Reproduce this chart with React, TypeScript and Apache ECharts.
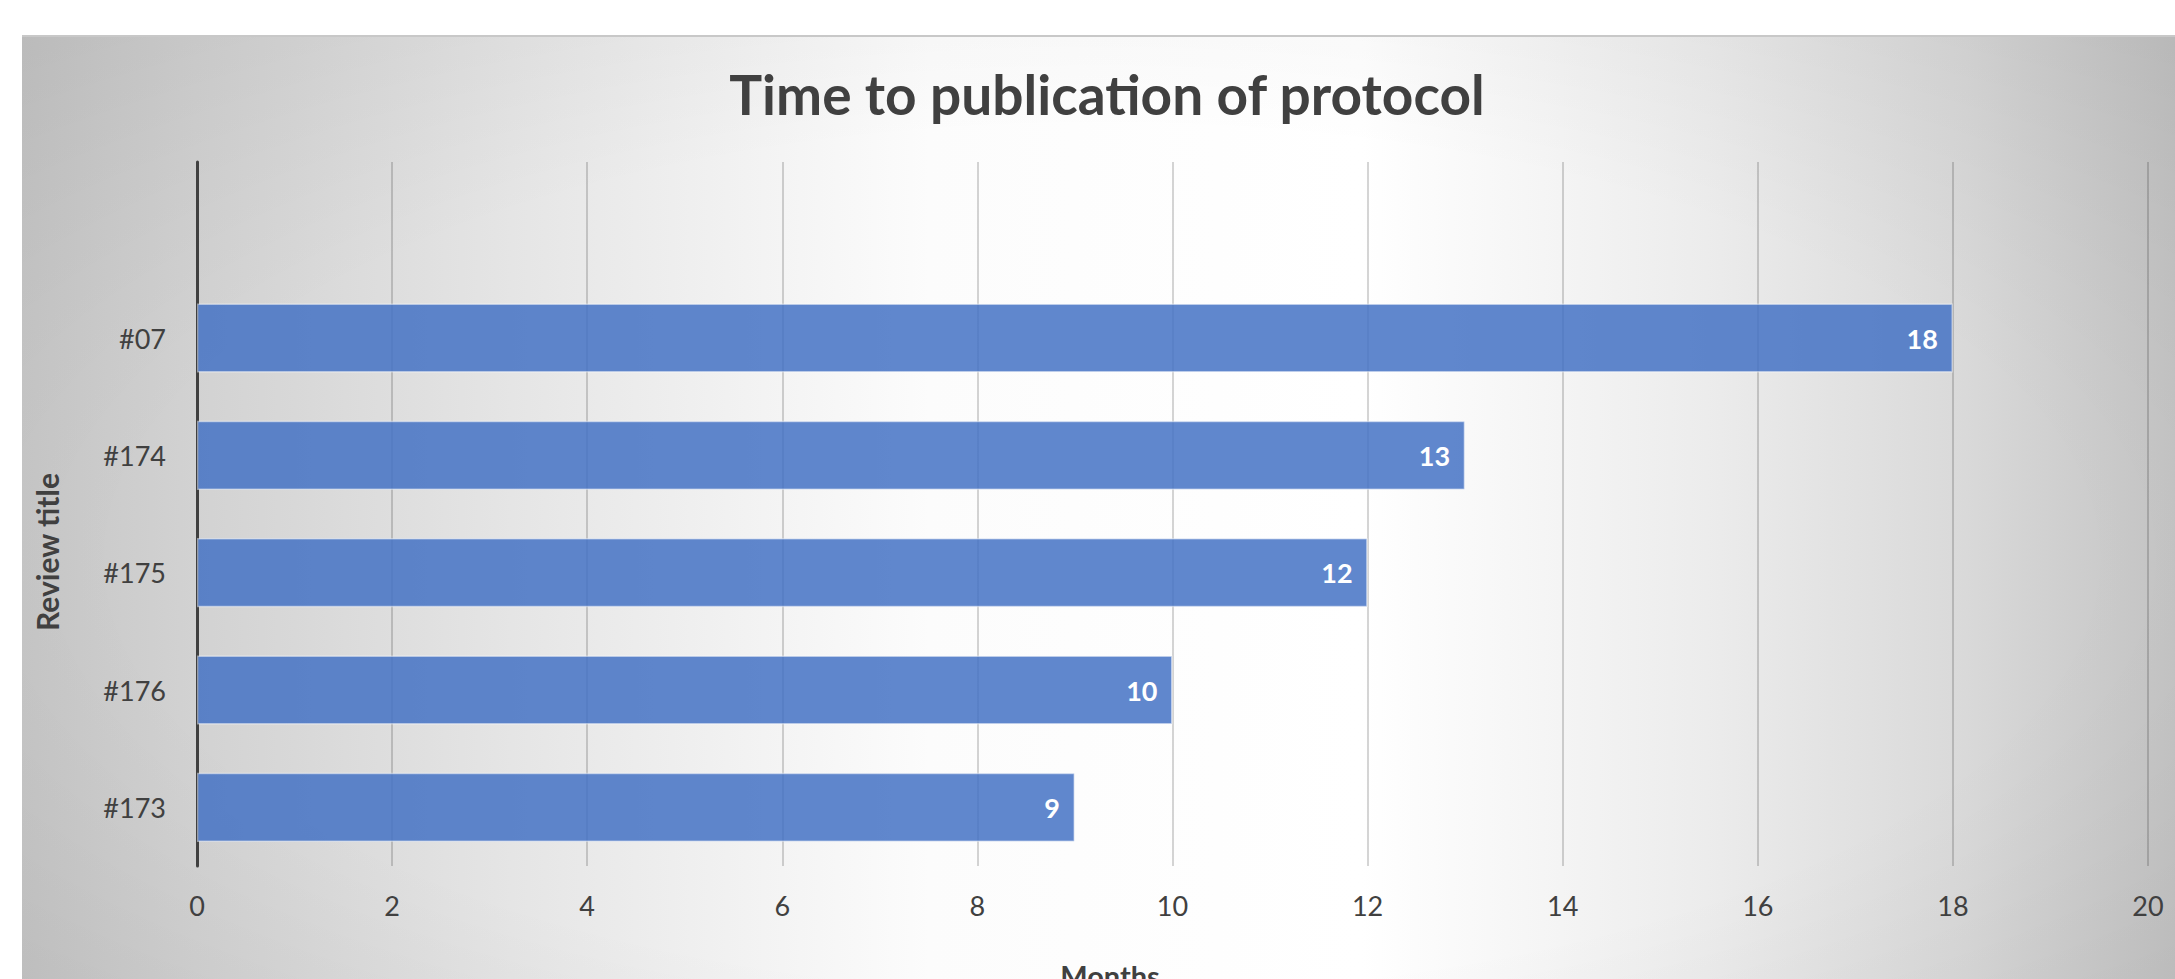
import React, { useEffect, useRef } from "react";
import * as echarts from "echarts";

const categories = ["#173", "#176", "#175", "#174", "#07", ""];
const months = [9, 10, 12, 13, 18, null];
const xTicks = { min: 0, max: 20, interval: 2 };
const titleText = "Time to publication of protocol";
const xName = "Months";
const yName = "Review title";

const FONT = "Lato, 'Open Sans', sans-serif";

export default function App() {
  const ref = useRef<HTMLDivElement>(null);
  useEffect(() => {
    document.body.style.margin = "0";
    const chart = echarts.init(ref.current!, null, { renderer: "svg" });
    chart.setOption({
      animation: false,
      backgroundColor: "#ffffff",
      graphic: [
        {
          type: "rect",
          z: -100,
          shape: { x: 22, y: 36, width: 2160, height: 950 },
          style: {
            fill: {
              type: "linear",
              x: 0,
              y: 0,
              x2: 1,
              y2: 0,
              colorStops: [
                { offset: 0, color: "#c6c6c6" },
                { offset: 0.08, color: "#d2d2d2" },
                { offset: 0.25, color: "#e8e8e8" },
                { offset: 0.42, color: "#fcfcfc" },
                { offset: 0.62, color: "#ffffff" },
                { offset: 0.78, color: "#ececec" },
                { offset: 0.9, color: "#d9d9d9" },
                { offset: 1, color: "#c3c3c3" },
              ],
            },
          },
        },
        {
          type: "rect",
          z: -99,
          shape: { x: 22, y: 36, width: 2160, height: 950 },
          style: {
            fill: {
              type: "radial",
              x: 0.5,
              y: 0.55,
              r: 0.75,
              colorStops: [
                { offset: 0, color: "rgba(0,0,0,0)" },
                { offset: 0.6, color: "rgba(0,0,0,0)" },
                { offset: 1, color: "rgba(0,0,0,0.06)" },
              ],
            },
          },
        },
        {
          type: "line",
          z: -98,
          shape: { x1: 22, y1: 36, x2: 2175, y2: 36 },
          style: { stroke: "#c8c8c8", lineWidth: 2 },
        },
        {
          type: "text",
          x: 1107,
          y: 94,
          style: {
            text: titleText,
            fontFamily: FONT,
            fontWeight: "bold",
            fontSize: 55,
            fill: "#404040",
            align: "center",
            verticalAlign: "middle",
          },
        },
        {
          type: "text",
          x: 1110,
          y: 975,
          style: {
            text: xName,
            fontFamily: FONT,
            fontWeight: "bold",
            fontSize: 29,
            fill: "#404040",
            align: "center",
            verticalAlign: "middle",
          },
        },
        {
          type: "text",
          x: 47,
          y: 552,
          rotation: Math.PI / 2,
          style: {
            text: yName,
            fontFamily: FONT,
            fontWeight: "bold",
            fontSize: 30,
            fill: "#404040",
            align: "center",
            verticalAlign: "middle",
          },
        },
      ],
      grid: { left: 197, right: 27, top: 162, bottom: 113, containLabel: false },
      xAxis: {
        type: "value",
        min: xTicks.min,
        max: xTicks.max,
        interval: xTicks.interval,
        axisLine: { show: false },
        axisTick: { show: false },
        axisLabel: {
          margin: 26,
          fontSize: 27,
          color: "#404040",
          fontFamily: FONT,
        },
        splitLine: { show: true, lineStyle: { color: "rgba(0,0,0,0.22)", width: 1.5 } },
      },
      yAxis: {
        type: "category",
        data: categories,
        axisLine: { show: true, lineStyle: { color: "#404040", width: 3 } },
        axisTick: { show: false },
        axisLabel: {
          margin: 31,
          fontSize: 27,
          color: "#404040",
          fontFamily: FONT,
        },
        splitLine: { show: false },
      },
      series: [
        {
          type: "bar",
          data: months,
          barCategoryGap: "41%",
          itemStyle: {
            color: "rgba(68,114,196,0.85)",
            borderColor: "rgba(255,255,255,0.45)",
            borderWidth: 1.5,
          },
          label: {
            show: true,
            position: "insideRight",
            distance: 15,
            color: "#ffffff",
            fontWeight: "bold",
            fontSize: 27,
            fontFamily: FONT,
          },
        },
      ],
    });
    return () => chart.dispose();
  }, []);
  return <div ref={ref} style={{ width: 2175, height: 979 }} />;
}
